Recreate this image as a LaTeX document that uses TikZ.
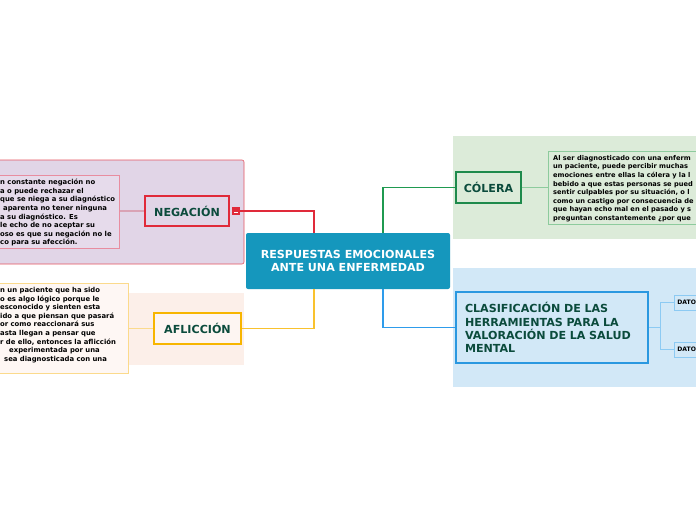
\documentclass[tikz,border=0pt]{standalone}
\usepackage{fontspec}
\setmainfont{DejaVu Sans}
\usepackage{xcolor}
\usetikzlibrary{positioning}

\definecolor{maintopic}{HTML}{1597BD}
\definecolor{darkgreentext}{HTML}{0B4B3C}
\definecolor{negbg}{HTML}{E1D5E7}
\definecolor{negred}{HTML}{E02A3A}
\definecolor{negpink}{HTML}{E88DA0}
\definecolor{negline}{HTML}{D9A3B5}
\definecolor{aflbg}{HTML}{FCEFE9}
\definecolor{aflyellow}{HTML}{F7B500}
\definecolor{afllight}{HTML}{FBDA8C}
\definecolor{aflline}{HTML}{F9C22E}
\definecolor{colbg}{HTML}{DCEBD9}
\definecolor{colgreen}{HTML}{1E8A4C}
\definecolor{collight}{HTML}{8DCB9D}
\definecolor{colline}{HTML}{1F9A50}
\definecolor{clasbg}{HTML}{D2E8F7}
\definecolor{clasblue}{HTML}{2A98E0}
\definecolor{claslight}{HTML}{8CCAF3}
\definecolor{clasline}{HTML}{2E9CEB}

\begin{document}
\begin{tikzpicture}[x=1pt, y=-1pt,
    topic/.style={rectangle, draw, line width=1.6pt, font=\fontsize{11.1}{13}\selectfont\bfseries, text=darkgreentext, inner sep=0pt},
    notebox/.style={rectangle, draw, line width=0.8pt, inner sep=0pt, anchor=north west},
    notetext/.style={anchor=north west, align=left, inner sep=0pt, font=\fontsize{6.85}{8.6}\selectfont\bfseries, text=black},
    datobox/.style={rectangle, draw=claslight, line width=0.8pt, fill=clasbg, anchor=west, minimum width=60pt, minimum height=15pt, inner xsep=3pt, text width=54pt, font=\fontsize{6.1}{8}\selectfont\bfseries},
    link/.style={line width=1.1pt}]
    \useasboundingbox (0,0) rectangle (696,520);
    \clip (0,0) rectangle (696,520);
    \fill[white] (0,0) rectangle (696,520);

    % group backgrounds
    \fill[negbg, draw=negred!80, line width=0.6pt, rounded corners=2pt] (-10,160) rectangle (244,264);
    \fill[aflbg] (-10,293) rectangle (244,365);
    \fill[colbg] (453,136) rectangle (710,239);
    \fill[clasbg] (453,268) rectangle (710,387);

    % central topic
    \node (central) [rectangle, fill=maintopic, rounded corners=2pt, minimum width=204pt, minimum height=56pt, align=center, text=white, font=\fontsize{11.1}{13.5}\selectfont\bfseries] at (348,261) {RESPUESTAS EMOCIONALES\\ANTE UNA ENFERMEDAD};

    % negacion
    \node (negnode) [topic, draw=negred, fill=negbg, minimum width=84pt, minimum height=30pt] at (187,211) {NEGACIÓN};
    \node (negtoggle) [rectangle, fill=negred, minimum width=8pt, minimum height=8pt, inner sep=0pt] at (236,211) {};
    \draw[white, line width=0.8pt] (negtoggle.center) ++(-2,1) -- ++(4,0);
    \node (negbox) [notebox, draw=negpink, fill=negbg!85!white, minimum width=129pt, minimum height=73pt] at (-10,175) {};
    \node (negtext) [notetext] at (0,179) {n constante negación no\\a o puede rechazar el\\que se niega a su diagnóstico\\\hspace{3pt}aparenta no tener ninguna\\a su diagnóstico. Es\\le echo de no aceptar su\\oso es que su negación no le\\co para su afección.};

    % afliccion
    \node (aflnode) [topic, draw=aflyellow, fill=aflbg!60!white, minimum width=87pt, minimum height=31pt] at (197.5,328.5) {AFLICCIÓN};
    \node (aflbox) [notebox, draw=afllight, fill=aflbg!50!white, minimum width=138pt, minimum height=90pt] at (-10,283) {};
    \node (afltext) [notetext] at (0,287) {n un paciente que ha sido\\o es algo lógico porque le\\esconocido y sienten esta\\ido a que piensan que pasará\\or como reaccionará sus\\asta llegan a pensar que\\r de ello, entonces la aflicción\\\hspace{9pt}experimentada por una\\\hspace{4pt}sea diagnosticada con una};

    % colera
    \node (colnode) [topic, draw=colgreen, fill=colbg, minimum width=65pt, minimum height=31pt] at (488.5,187.5) {CÓLERA};
    \node (colbox) [notebox, draw=collight, fill=colbg, minimum width=170pt, minimum height=73pt] at (548,151) {};
    \node (coltext) [notetext, font=\fontsize{6.65}{8.6}\selectfont\bfseries] at (553,155) {Al ser diagnosticado con una enferm\\un paciente, puede percibir muchas\\emociones entre ellas la cólera y la l\\bebido a que estas personas se pued\\sentir culpables por su situación, o l\\como un castigo por consecuencia de\\que hayan echo mal en el pasado y s\\preguntan constantemente ¿por que};

    % clasificacion
    \node (clasnode) [topic, draw=clasblue, fill=clasbg, minimum width=192pt, minimum height=71pt, text width=174pt, align=left, font=\fontsize{11.1}{13.3}\selectfont\bfseries] at (552,327.5) {CLASIFICACIÓN DE LAS\\HERRAMIENTAS PARA LA\\VALORACIÓN DE LA SALUD\\MENTAL};
    \node (datoa) [datobox] at (674,302.5) {DATO};
    \node (datob) [datobox] at (674,349.5) {DATO};

    % connectors
    \draw[link, draw=negred] (negtoggle.east) -| ([xshift=-34]central.north);
    \draw[link, draw=aflline] ([xshift=-34]central.south) |- (aflnode.east);
    \draw[link, draw=colline] ([xshift=35]central.north) |- (colnode.west);
    \draw[link, draw=clasline] ([xshift=35]central.south) |- (clasnode.west);
    \draw[link, draw=negline] (negbox.east |- negnode.west) -- (negnode.west);
    \draw[link, draw=afllight] (aflbox.east |- aflnode.west) -- (aflnode.west);
    \draw[link, draw=collight] (colnode.east) -- (colbox.west |- colnode.east);
    \draw[link, draw=claslight] (clasnode.east) -- ++(12,0) |- (datoa.west);
    \draw[link, draw=claslight] (clasnode.east) ++(12,0) |- (datob.west);
\end{tikzpicture}
\end{document}
